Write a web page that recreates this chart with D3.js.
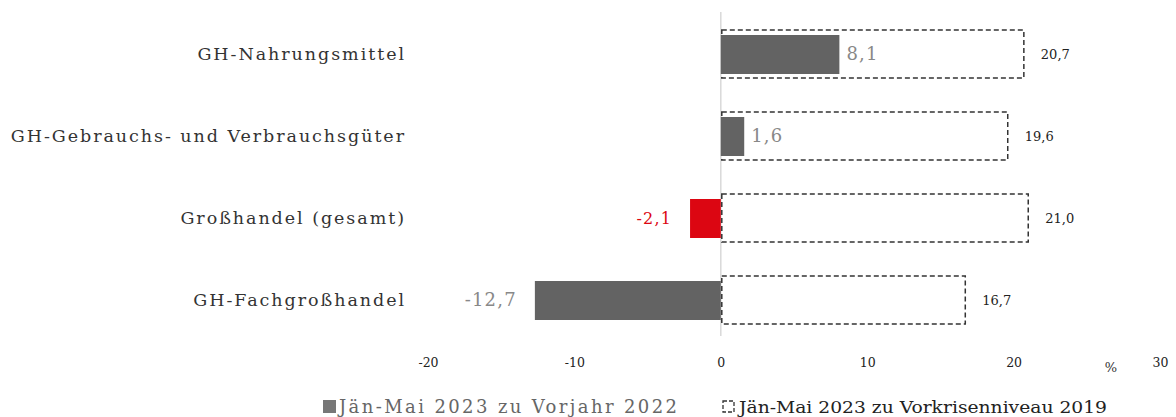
<!DOCTYPE html>
<html><head><meta charset="utf-8">
<script src="https://cdn.jsdelivr.net/npm/d3@7"></script>
<style>body{margin:0;background:#fff}svg{display:block}</style>
</head><body>
<svg id="c" width="1176" height="417"></svg>
<script>
const categories = ["GH-Nahrungsmittel","GH-Gebrauchs- und Verbrauchsgüter","Großhandel (gesamt)","GH-Fachgroßhandel"];
const vorjahr = [8.1, 1.6, -2.1, -12.7];
const vorkrise = [20.7, 19.6, 21.0, 16.7];
const highlight = [false, false, true, false];
const ticks = [-20,-10,0,10,20,30];
const legendLabels = ["Jän-Mai 2023 zu Vorjahr 2022","Jän-Mai 2023 zu Vorkrisenniveau 2019"];

const svg = d3.select("#c");
const x = d3.scaleLinear().domain([-20,30]).range([428,1160]);
const y = d3.scaleBand().domain(categories).range([13,341]).paddingInner(0.4).paddingOuter(0.2);
const fmt = v => d3.format(".1f")(v).replace(".", ",").replace("−","-");
const serif = "'DejaVu Serif', serif";

// zero line
svg.append("line").attr("x1",x(0)).attr("x2",x(0)).attr("y1",12).attr("y2",336)
  .attr("stroke","#d9d9d9").attr("stroke-width",1.5);

const cy = d => y(d) + y.bandwidth()/2;
const hOuter = 48, hInner = 39;

// dashed bars
svg.selectAll("rect.k").data(categories).join("rect").attr("class","k")
  .attr("x",(d,i)=>x(0)+1).attr("y",d=>cy(d)-hOuter/2)
  .attr("width",(d,i)=>x(vorkrise[i])-x(0)-1).attr("height",hOuter)
  .attr("fill","none").attr("stroke","#333").attr("stroke-width",1.5).attr("stroke-dasharray","5,3");

// filled bars
svg.selectAll("rect.v").data(categories).join("rect").attr("class","v")
  .attr("x",(d,i)=>Math.min(x(0),x(vorjahr[i]))).attr("y",d=>cy(d)-hInner/2+0.5)
  .attr("width",(d,i)=>Math.abs(x(vorjahr[i])-x(0))).attr("height",hInner)
  .attr("fill",(d,i)=>highlight[i]?"#dc0612":"#636363");

// filled labels
svg.selectAll("text.vl").data(categories).join("text").attr("class","vl")
  .attr("x",(d,i)=>vorjahr[i]>=0 ? x(vorjahr[i])+7 : x(vorjahr[i])-18)
  .attr("y",d=>cy(d)+6)
  .attr("text-anchor",(d,i)=>vorjahr[i]>=0?"start":"end")
  .attr("font-family",serif).attr("font-size",(d,i)=>highlight[i]?16:18)
  .attr("letter-spacing",1.2)
  .attr("fill",(d,i)=>highlight[i]?"#dc0612":"#888")
  .text((d,i)=>fmt(vorjahr[i]));

// dashed labels
svg.selectAll("text.kl").data(categories).join("text").attr("class","kl")
  .attr("x",(d,i)=>x(vorkrise[i])+17).attr("y",d=>cy(d)+5)
  .attr("font-family",serif).attr("font-size",13).attr("fill","#222")
  .text((d,i)=>fmt(vorkrise[i]));

// category labels
svg.selectAll("text.cat").data(categories).join("text").attr("class","cat")
  .attr("x",406).attr("y",d=>cy(d)+6).attr("text-anchor","end")
  .attr("font-family",serif).attr("font-size",17.5).attr("letter-spacing",1.95)
  .attr("fill","#333").text(d=>d);

// axis
const ax = svg.append("g").attr("transform","translate(0,363)")
  .call(d3.axisBottom(x).tickValues(ticks).tickSize(0).tickFormat(d=>String(d)));
ax.select(".domain").remove();
ax.selectAll("text").attr("font-family",serif).attr("font-size",12.5).attr("fill","#222").attr("dy",0).attr("y",4);
svg.append("text").attr("x",1111).attr("y",372).attr("text-anchor","middle")
  .attr("font-family",serif).attr("font-size",13).attr("fill","#333").text("%");

// legend
svg.append("rect").attr("x",323).attr("y",400).attr("width",13).attr("height",13).attr("fill","#777");
svg.append("text").attr("x",339).attr("y",413).attr("font-family",serif).attr("font-size",18)
  .attr("textLength",338).attr("lengthAdjust","spacing")
  .attr("fill","#666").text(legendLabels[0]);
svg.append("rect").attr("x",723).attr("y",401).attr("width",11).attr("height",11)
  .attr("fill","none").attr("stroke","#333").attr("stroke-width",1.3).attr("stroke-dasharray","4,2");
svg.append("text").attr("x",739).attr("y",413).attr("font-family",serif).attr("font-size",17)
  .attr("textLength",368).attr("lengthAdjust","spacingAndGlyphs")
  .attr("fill","#222").text(legendLabels[1]);
</script>
</body></html>
